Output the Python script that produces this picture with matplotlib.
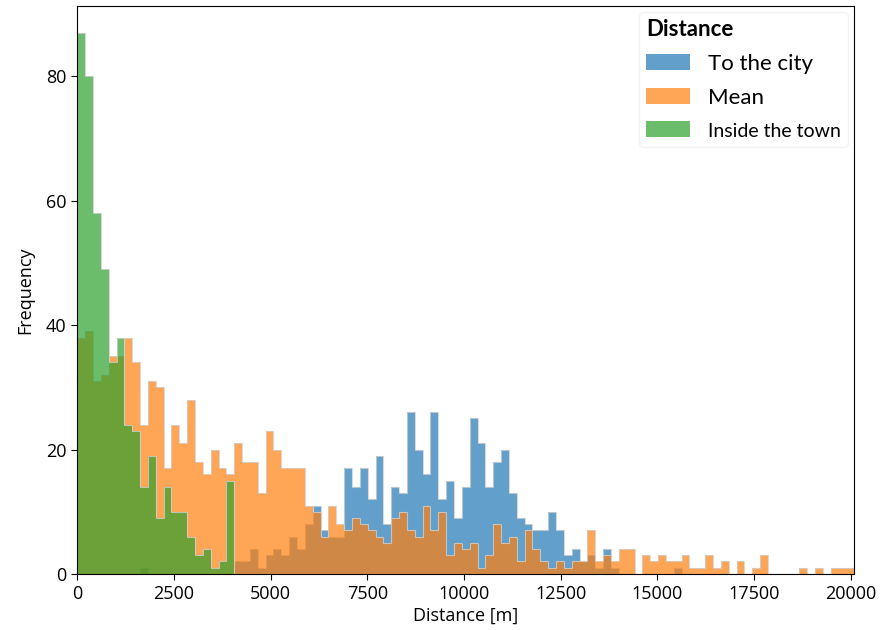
import numpy as np
import matplotlib
matplotlib.use("Agg")
import matplotlib.pyplot as plt

plt.rcParams["font.family"] = ["Open Sans", "DejaVu Sans"]

# 99 shared bins over the full data range (metres)
X_MAX = 20097
N_BINS = 99

# counts per bin (bins not listed are zero)
city_bins = [8, 20, 21, 22, 23, 24, 25, 26, 27, 28, 29, 30, 31, 32, 33, 34, 35,
             36, 37, 38, 39, 40, 41, 42, 43, 44, 45, 46, 47, 48, 49, 50, 51,
             52, 53, 54, 55, 56, 57, 58, 59, 60, 61, 62, 63, 64, 65, 66, 67,
             68, 76]
city_counts = [1, 2, 2, 4, 1, 3, 4, 3, 6, 4, 8, 11, 7, 6, 6, 17, 14,
               17, 12, 19, 8, 14, 13, 26, 20, 16, 26, 12, 15, 9, 14, 25, 21,
               14, 18, 20, 13, 9, 8, 7, 7, 10, 7, 3, 4, 2, 3, 1, 4,
               1, 1]

mean_counts = [38, 39, 31, 32, 35, 35, 38, 34, 24, 31, 30, 17, 24, 21, 28, 18,
               16, 20, 17, 16, 21, 18, 18, 13, 23, 20, 17, 17, 17, 11, 10, 6,
               11, 8, 7, 9, 8, 7, 6, 5, 9, 10, 7, 6, 11, 7, 10, 3, 5, 4, 5, 1,
               3, 8, 5, 6, 2, 7, 4, 2, 1, 2, 1, 2, 2, 7, 2, 3, 2, 4, 4, 0, 3,
               2, 3, 2, 2, 3, 1, 1, 3, 1, 2, 0, 2, 0, 1, 3, 0, 0, 0, 0, 1, 0,
               1, 0, 1, 1, 1]

town_counts = [87, 80, 58, 49, 34, 38, 24, 23, 14, 19, 9, 14, 10, 10, 6, 3,
               4, 1, 2, 15]

labels = ["To the city", "Mean", "Inside the town"]
colors = ["tab:blue", "tab:orange", "tab:green"]

edges = np.linspace(0, X_MAX, N_BINS + 1)


def full(counts, idx=None):
    out = np.zeros(N_BINS)
    if idx is None:
        out[:len(counts)] = counts
    else:
        out[idx] = counts
    return out


series = [full(city_counts, city_bins), full(mean_counts), full(town_counts)]

fig = plt.figure(figsize=(8.84, 6.3), dpi=100)
ax = fig.add_axes([0.0874, 0.089, 0.879, 0.902])

for vals, lab, col in zip(series, labels, colors):
    ax.stairs(vals, edges, fill=True, color=col, alpha=0.7, label=lab)
    ax.stairs(vals, edges, color="#d0d0d0", linewidth=0.8, alpha=0.8)

ax.set_xlim(0, X_MAX)
ax.set_xticks(np.arange(0, 20001, 2500))
ax.set_yticks([0, 20, 40, 60, 80])
ax.tick_params(labelsize=13, length=4.5)
ax.set_xlabel("Distance [m]", fontsize=13, labelpad=3)
ax.set_ylabel("Frequency", fontsize=13, labelpad=8)

leg = ax.legend(title="Distance", loc="upper right", alignment="left",
                handlelength=2.0, handleheight=0.7, handletextpad=0.8,
                borderaxespad=0.3, labelspacing=0.62, borderpad=0.3,
                prop={"family": ["Lato", "DejaVu Sans"], "size": 16},
                title_fontproperties={"family": ["Lato", "DejaVu Sans"],
                                      "size": 16, "weight": "bold"})
leg.get_frame().set_edgecolor("#eeeeee")
leg.get_texts()[2].set_fontsize(14)

fig.savefig("out.png", dpi=100, facecolor="white")
